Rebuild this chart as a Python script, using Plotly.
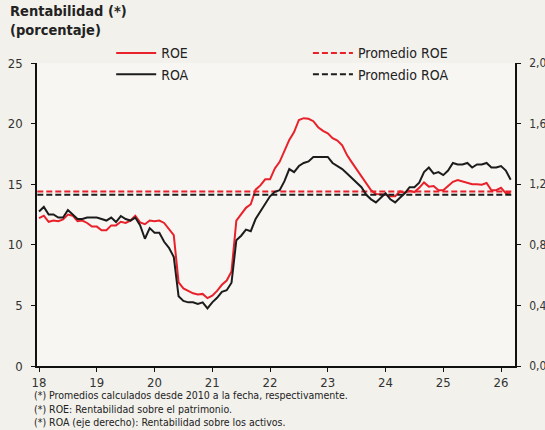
import plotly.graph_objects as go

# Monthly data, Jan 2018 .. Mar 2026
start_year = 2018
roe = [12.2, 12.4, 11.9, 12.0, 11.95, 12.1, 12.5, 12.4, 11.95, 12.0,
       11.8, 11.5, 11.5, 11.2, 11.2, 11.6, 11.6, 11.9, 11.8, 12.0,
       12.4, 11.85, 11.7, 12.0, 11.95, 12.0, 11.8, 11.3, 10.8, 6.9,
       6.4, 6.2, 6.0, 5.9, 5.95, 5.6, 5.8, 6.2, 6.7, 7.05,
       7.8, 12.0, 12.5, 13.05, 13.35, 14.55, 14.9, 15.4, 15.4, 16.3,
       16.85, 17.8, 18.65, 19.3, 20.3, 20.45, 20.4, 20.2, 19.7, 19.4,
       19.2, 18.8, 18.6, 18.2, 17.4, 16.8, 16.25, 15.6, 15.1, 14.5,
       14.2, 14.15, 14.15, 14.0, 14.0, 14.4, 14.3, 14.45, 14.35, 14.7,
       15.15, 14.8, 14.85, 14.5, 14.5, 14.85, 15.2, 15.35, 15.25, 15.15,
       15.0, 15.0, 14.95, 15.1, 14.5, 14.5, 14.7, 14.25, 14.3]
roa = [1.02, 1.05, 1.00, 1.00, 0.98, 0.98, 1.03, 1.00, 0.97, 0.97,
       0.98, 0.98, 0.98, 0.97, 0.96, 0.98, 0.95, 0.99, 0.97, 0.96,
       0.98, 0.93, 0.84, 0.91, 0.88, 0.88, 0.82, 0.78, 0.72, 0.46,
       0.43, 0.42, 0.42, 0.41, 0.42, 0.38, 0.42, 0.45, 0.49, 0.50,
       0.55, 0.83, 0.86, 0.90, 0.89, 0.97, 1.02, 1.07, 1.12, 1.15,
       1.16, 1.22, 1.30, 1.28, 1.32, 1.34, 1.35, 1.38, 1.38, 1.38,
       1.38, 1.34, 1.32, 1.30, 1.27, 1.24, 1.21, 1.18, 1.13, 1.10,
       1.08, 1.11, 1.14, 1.10, 1.08, 1.11, 1.14, 1.18, 1.18, 1.21,
       1.28, 1.31, 1.27, 1.28, 1.26, 1.29, 1.34, 1.33, 1.33, 1.34,
       1.31, 1.33, 1.33, 1.34, 1.31, 1.31, 1.32, 1.29, 1.23]
roe_avg = 14.4
roa_avg = 1.13

x_tick_vals = [18, 19, 20, 21, 22, 23, 24, 25, 26]
x_tick_text = ["18", "19", "20", "21", "22", "23", "24", "25", "26"]
left_ticks = [0, 5, 10, 15, 20, 25]
right_ticks = [0.0, 0.4, 0.8, 1.2, 1.6, 2.0]

x = [(start_year - 2000) + i / 12 for i in range(len(roe))]

RED = "#e8212b"
BLACK = "#1c1c1c"
FONT = "DejaVu Sans Condensed, sans-serif"

fig = go.Figure()
fig.add_trace(go.Scatter(x=x, y=roe, mode="lines", name="ROE", legend="legend",
                         line=dict(color=RED, width=2)))
fig.add_trace(go.Scatter(x=x, y=roa, mode="lines", name="ROA", yaxis="y2", legend="legend",
                         line=dict(color=BLACK, width=2)))
fig.add_trace(go.Scatter(x=[x[0] - 0.03, x[-1] + 0.03], y=[roe_avg, roe_avg], mode="lines",
                         name="Promedio ROE", legend="legend2",
                         line=dict(color=RED, width=2, dash="6px,3px")))
fig.add_trace(go.Scatter(x=[x[0] - 0.03, x[-1] + 0.03], y=[roa_avg, roa_avg], mode="lines",
                         name="Promedio ROA", yaxis="y2", legend="legend2",
                         line=dict(color=BLACK, width=2, dash="6px,3px")))

leg_common = dict(orientation="v", xref="container", yref="container",
                  xanchor="left", yanchor="top", y=0.913, traceorder="normal",
                  font=dict(size=14, family=FONT, color="#222"),
                  bgcolor="rgba(0,0,0,0)", tracegroupgap=0, itemwidth=40)

axis_common = dict(showgrid=False, zeroline=False, showline=True, linecolor="#111",
                   linewidth=1.5, ticks="outside", ticklen=4, tickcolor="#111")

fig.update_layout(
    width=545, height=430,
    margin=dict(l=37, r=30, t=63, b=64, autoexpand=False),
    paper_bgcolor="#f2f1ec",
    plot_bgcolor="#f7f6f2",
    separators=",.",
    font=dict(family=FONT, size=13, color="#222"),
    showlegend=True,
    legend=dict(x=0.204, **leg_common),
    legend2=dict(x=0.565, **leg_common),
    xaxis=dict(range=[17.965, 26.242], tickvals=x_tick_vals, ticktext=x_tick_text,
               tickfont=dict(size=13, color="#333", family=FONT), **axis_common),
    yaxis=dict(range=[0, 25], tickvals=left_ticks, ticklabelstandoff=6,
               tickfont=dict(size=13, color="#333", family=FONT), **axis_common),
    yaxis2=dict(range=[0, 2.0], tickvals=right_ticks, tickformat=".1f", overlaying="y",
                side="right", ticklabelstandoff=6,
                tickfont=dict(size=12, color="#333", family=FONT), **axis_common),
)

fig.add_annotation(text="<b>Rentabilidad (*)</b><br><b>(porcentaje)</b>", xref="paper", yref="paper",
                   x=-29/478, y=1 + 62/303, xanchor="left", yanchor="top", showarrow=False,
                   align="left", font=dict(size=14.5, family=FONT, color="#222"))
notes = ["(*) Promedios calculados desde 2010 a la fecha, respectivamente.",
         "(*) ROE: Rentabilidad sobre el patrimonio.",
         "(*) ROA (eje derecho): Rentabilidad sobre los activos."]
fig.add_annotation(text="<br>".join(notes), xref="paper", yref="paper",
                   x=-5/478, y=-21/303, xanchor="left", yanchor="top", showarrow=False,
                   align="left", font=dict(size=10.5, family=FONT, color="#222"))

fig.write_html("out.html", config={"displayModeBar": False},
               post_script="document.body.style.margin='0';document.body.style.overflow='hidden';")
